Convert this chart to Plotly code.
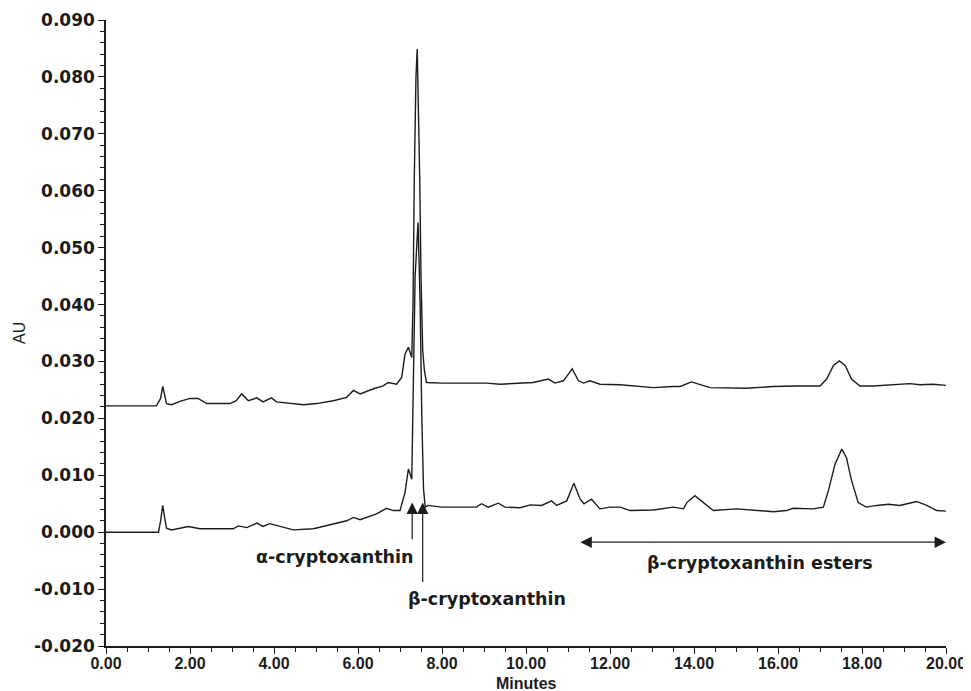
import plotly.graph_objects as go

# ---- data (minutes, AU) ----
upper_time = [
    0.00, 1.20, 1.30, 1.35, 1.40, 1.44, 1.56, 1.76, 2.00, 2.19,
    2.40, 2.95, 3.10, 3.23, 3.39, 3.59, 3.74, 3.94, 4.06, 4.38,
    4.70, 5.01, 5.41, 5.73, 5.89, 6.05, 6.37, 6.60, 6.72, 6.92,
    7.04, 7.12, 7.20, 7.28, 7.31, 7.34, 7.38, 7.41, 7.44, 7.47,
    7.50, 7.54, 7.58, 7.63, 8.00, 8.67, 9.06, 9.38, 9.86, 10.17,
    10.53, 10.69, 10.89, 11.10, 11.25, 11.37, 11.52, 11.76, 12.24, 12.71,
    13.03, 13.50, 13.67, 13.94, 14.14, 14.38, 15.25, 15.89, 16.44, 17.00,
    17.16, 17.32, 17.46, 17.60, 17.75, 17.95, 18.27, 18.75, 19.14, 19.38,
    19.70, 20.00,
]
upper_au = [
    0.0222, 0.0222, 0.0235, 0.0256, 0.0240, 0.0226, 0.0224, 0.0230, 0.0235, 0.0235,
    0.0226, 0.0226, 0.0231, 0.0243, 0.0231, 0.0236, 0.0229, 0.0236, 0.0229, 0.0226,
    0.0224, 0.0226, 0.0231, 0.0237, 0.0249, 0.0243, 0.0252, 0.0257, 0.0263, 0.0260,
    0.0272, 0.0313, 0.0325, 0.0307, 0.0400, 0.0620, 0.0800, 0.0849, 0.0750, 0.0620,
    0.0450, 0.0320, 0.0285, 0.0263, 0.0262, 0.0262, 0.0262, 0.0260, 0.0262, 0.0263,
    0.0269, 0.0262, 0.0266, 0.0287, 0.0266, 0.0262, 0.0266, 0.0260, 0.0259, 0.0256,
    0.0254, 0.0256, 0.0256, 0.0264, 0.0260, 0.0254, 0.0253, 0.0256, 0.0257, 0.0257,
    0.0269, 0.0293, 0.0301, 0.0293, 0.0269, 0.0257, 0.0257, 0.0259, 0.0261, 0.0259,
    0.0260, 0.0258,
]

lower_time = [
    0.00, 1.25, 1.30, 1.35, 1.40, 1.44, 1.56, 1.96, 2.24, 3.03,
    3.15, 3.35, 3.59, 3.74, 3.90, 4.14, 4.46, 4.94, 5.41, 5.73,
    5.89, 6.05, 6.44, 6.68, 6.84, 7.00, 7.12, 7.20, 7.28, 7.32,
    7.36, 7.43, 7.48, 7.52, 7.56, 7.60, 7.67, 8.00, 8.82, 8.94,
    9.10, 9.34, 9.50, 9.86, 10.10, 10.37, 10.61, 10.73, 10.97, 11.14,
    11.29, 11.38, 11.56, 11.76, 12.00, 12.24, 12.48, 13.03, 13.50, 13.75,
    13.83, 14.02, 14.22, 14.46, 15.01, 15.57, 15.89, 16.20, 16.36, 16.84,
    17.08, 17.20, 17.36, 17.52, 17.63, 17.75, 17.91, 18.10, 18.35, 18.63,
    18.90, 19.30, 19.54, 19.78, 20.00,
]
lower_au = [
    0.0000, 0.0000, 0.0020, 0.0047, 0.0024, 0.0007, 0.0004, 0.0010, 0.0006, 0.0006,
    0.0011, 0.0008, 0.0016, 0.0010, 0.0015, 0.0010, 0.0004, 0.0006, 0.0014, 0.0020,
    0.0026, 0.0022, 0.0032, 0.0042, 0.0038, 0.0038, 0.0070, 0.0111, 0.0093, 0.0250,
    0.0450, 0.0544, 0.0400, 0.0200, 0.0076, 0.0044, 0.0047, 0.0044, 0.0044, 0.0050,
    0.0044, 0.0051, 0.0044, 0.0043, 0.0048, 0.0047, 0.0055, 0.0047, 0.0055, 0.0086,
    0.0058, 0.0050, 0.0058, 0.0041, 0.0044, 0.0044, 0.0038, 0.0039, 0.0044, 0.0041,
    0.0052, 0.0064, 0.0052, 0.0038, 0.0041, 0.0038, 0.0036, 0.0038, 0.0042, 0.0041,
    0.0044, 0.0073, 0.0120, 0.0146, 0.0131, 0.0091, 0.0052, 0.0044, 0.0047, 0.0049,
    0.0047, 0.0054, 0.0047, 0.0038, 0.0037,
]

x_tick_vals = [0, 2, 4, 6, 8, 10, 12, 14, 16, 18, 20]
x_tick_text = ["0.00", "2.00", "4.00", "6.00", "8.00", "10.00",
               "12.00", "14.00", "16.00", "18.00", "20.00"]
y_tick_vals = [-0.02, -0.01, 0.0, 0.01, 0.02, 0.03, 0.04, 0.05, 0.06, 0.07, 0.08, 0.09]
y_tick_text = ["-0.020", "-0.010", "0.000", "0.010", "0.020", "0.030",
               "0.040", "0.050", "0.060", "0.070", "0.080", "0.090"]

x_title = "Minutes"
y_title = "AU"

# annotation anchors (minutes, AU)
alpha_label = ("α-cryptoxanthin", 5.45, -0.0043)
beta_label = ("β-cryptoxanthin", 9.07, -0.0117)
ester_label = ("β-cryptoxanthin esters", 15.57, -0.0055)
alpha_arrow = (7.29, 0.0052, -0.0015)
beta_arrow = (7.54, 0.0052, -0.0090)
ester_span = (11.26, 20.0, -0.00176)

INK = "#1c1c1c"
LABEL_FONT = "DejaVu Sans"
AXIS_FONT = "Liberation Sans Narrow, Liberation Sans, Arial"

fig = go.Figure()
fig.add_trace(go.Scatter(x=upper_time, y=upper_au, mode="lines",
                         line=dict(color=INK, width=1.4), showlegend=False))
fig.add_trace(go.Scatter(x=lower_time, y=lower_au, mode="lines",
                         line=dict(color=INK, width=1.4), showlegend=False))

for text, x, y in (alpha_label, beta_label, ester_label):
    fig.add_annotation(x=x, y=y, xref="x", yref="y", text=text, showarrow=False,
                       font=dict(family=LABEL_FONT, size=17.5, color=INK, weight="bold"))

for x, head, tail in (alpha_arrow, beta_arrow):
    fig.add_annotation(x=x, y=head, ax=x, ay=tail, xref="x", yref="y",
                       axref="x", ayref="y", text="", showarrow=True,
                       arrowhead=2, arrowsize=1.9, arrowwidth=1.2, arrowcolor=INK)

x0, x1, yy = ester_span
fig.add_annotation(x=x1, y=yy, ax=x0, ay=yy, xref="x", yref="y",
                   axref="x", ayref="y", text="", showarrow=True,
                   arrowhead=2, startarrowhead=2, arrowside="end+start",
                   arrowsize=1.9, startarrowsize=1.9, arrowwidth=1.2, arrowcolor=INK)

# axis titles
fig.add_annotation(x=0.5, y=0, xref="paper", yref="paper", yshift=-37,
                   xanchor="center", yanchor="middle", text=x_title, showarrow=False,
                   font=dict(family=AXIS_FONT, size=16, color=INK, weight="bold"))
fig.add_annotation(x=0, y=0.5, xref="paper", yref="paper", xshift=-87,
                   xanchor="center", yanchor="middle", text=y_title, textangle=-90,
                   showarrow=False, font=dict(family=AXIS_FONT, size=16, color=INK))

# page body has an 8px margin: figure size chosen so it fills the 971x691 window
fig.update_layout(
    width=963, height=683,
    margin=dict(l=98, r=25, t=12, b=45),
    paper_bgcolor="white", plot_bgcolor="white",
    showlegend=False,
)
fig.update_xaxes(
    range=[0, 20], tickmode="array", tickvals=x_tick_vals, ticktext=x_tick_text,
    ticks="outside", ticklen=6, tickwidth=1.2, tickcolor=INK,
    minor=dict(dtick=0.5, tick0=0, ticks="outside", ticklen=4, tickwidth=1, tickcolor=INK),
    showline=True, linecolor=INK, linewidth=1.5, showgrid=False, zeroline=False,
    automargin=False, ticklabelstandoff=-4,
    tickfont=dict(family=AXIS_FONT, size=16, color=INK, weight="bold"),
)
fig.update_yaxes(
    range=[-0.02, 0.09], tickmode="array", tickvals=y_tick_vals, ticktext=y_tick_text,
    ticks="outside", ticklen=6, tickwidth=1.2, tickcolor=INK,
    minor=dict(dtick=0.002, tick0=0, ticks="outside", ticklen=4, tickwidth=1, tickcolor=INK),
    showline=True, linecolor=INK, linewidth=1.5, showgrid=False, zeroline=False,
    automargin=False,
    tickfont=dict(family="DejaVu Sans", size=17, color=INK, weight="bold"),
)

fig.write_html("out.html")
